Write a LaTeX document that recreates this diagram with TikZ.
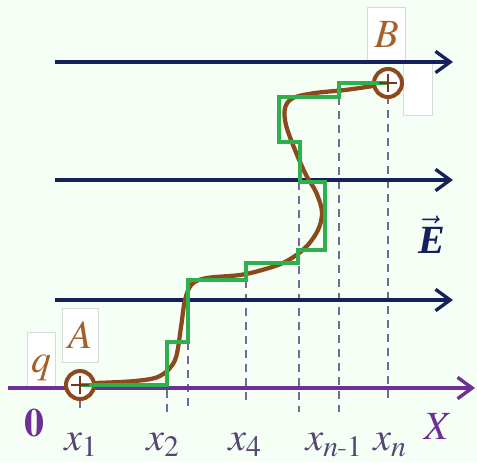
\documentclass[tikz,border=0pt]{standalone}
\usepackage{amsmath}
\usepackage{mathptmx}
\usepackage{fontspec}
\newfontfamily\timesbold{Liberation Serif}
\usetikzlibrary{arrows.meta}

\definecolor{bgmint}{RGB}{245,255,246}
\definecolor{fieldblue}{RGB}{22,32,92}
\definecolor{axispurple}{RGB}{108,48,150}
\definecolor{pathbrown}{RGB}{140,74,28}
\definecolor{stepgreen}{RGB}{46,176,76}
\definecolor{dashpurple}{RGB}{122,102,152}
\definecolor{labelgray}{RGB}{85,70,115}
\definecolor{labelbrown}{RGB}{165,95,40}

\tikzset{
  fieldline/.style={draw=fieldblue, line width=2.5pt, -{Straight Barb[length=11pt, width=16pt]}},
  axisline/.style={draw=axispurple, line width=2.5pt, -{Straight Barb[length=11pt, width=16pt]}},
  guide/.style={draw=dashpurple, line width=1.8pt, dash pattern=on 6pt off 4.5pt},
  route/.style={draw=pathbrown, line width=3.2pt, line cap=round},
  steps/.style={draw=stepgreen, line width=2.8pt},
  charge/.style={circle, draw=pathbrown, fill=white, line width=3pt, minimum size=21pt, inner sep=0pt},
  plus/.style={draw=pathbrown!80!black, line width=1pt},
  labelbox/.style={fill=white, draw=black!15, line width=0.6pt},
  chargelabel/.style={labelbox, inner sep=0pt, anchor=base, text height=30pt, text depth=10.5pt,
    text=labelbrown, font=\fontsize{30}{32}\selectfont},
  axislabel/.style={text=labelgray, inner sep=0pt, anchor=base, font=\fontsize{30}{32}\selectfont},
}

\begin{document}
\begin{tikzpicture}[x=0.75pt, y=-0.75pt]
  \fill[bgmint] (0,0) rectangle (477,462);
  \useasboundingbox (0,0) rectangle (477,462);

  \draw[guide] (80,400) -- (80,411);
  \draw[guide] (167,390) -- (167,412);
  \draw[guide] (188,342) -- (188,412);
  \draw[guide] (246,280) -- (246,406);
  \draw[guide] (299,182) -- (299,412);
  \draw[guide] (339,97) -- (339,412);
  \draw[guide] (388,96) -- (388,404);

  \draw[labelbox] (403,62) rectangle (432,115);
  \node[chargelabel, minimum width=21pt] (qlab) at (41,372) {$q$};
  \node[chargelabel, minimum width=27pt] (Alab) at (80,348) {$A$};
  \node[chargelabel, minimum width=28pt] (Blab) at (386.5,47) {$B$};

  \draw[fieldline] (55,62) -- (453,62);
  \draw[fieldline] (55,180) -- (453,180);
  \draw[fieldline] (55,300) -- (453,300);
  \draw[axisline] (8,388) -- (475,388);

  \node[charge] (A) at (80,385) {};
  \node[charge] (B) at (388,83) {};

  \draw[route] plot[smooth, tension=0.55] coordinates {(95,383) (135,381) (160,376) (175,360)
    (181,327) (185,300) (192,284) (207,278) (240,275) (262,270) (285,262) (305,248) (318,230)
    (322,212) (316,192) (306,175) (295,150) (286,125) (285,108) (293,98) (315,93) (345,90) (373,86)};

  \draw[steps] (A.center) -- (167,385) -- (167,342) -- (188,342) -- (188,280) -- (246,280)
    -- (246,263) -- (298,263) -- (298,250) -- (325,250) -- (325,182) -- (300,182) -- (300,142)
    -- (279,142) -- (279,97) -- (339,97) -- (339,83) -- (B.center);

  \draw[plus] ([xshift=-6.5pt]A.center) -- ([xshift=6.5pt]A.center);
  \draw[plus] ([yshift=-6.5pt]A.center) -- ([yshift=6.5pt]A.center);
  \draw[plus] ([xshift=-6.5pt]B.center) -- ([xshift=6.5pt]B.center);
  \draw[plus] ([yshift=-6.5pt]B.center) -- ([yshift=6.5pt]B.center);

  \node[axislabel, text=axispurple] (zero) at (34,436) {$\mathbf{0}$};
  \node[axislabel] (xa) at (81,450) {$x_1$};
  \node[axislabel] (xb) at (163,450) {$x_2$};
  \node[axislabel] (xd) at (245,450) {$x_4$};
  \node[axislabel] (xm) at (334,450) {$x_{n\text{-}1}$};
  \node[axislabel] (xn) at (390,450) {$x_n$};
  \node[axislabel, text=axispurple] (Xlab) at (438,439) {$X$};
  \node[axislabel, text=fieldblue] (Elab) at (432,253) {$\vec{\hbox{\timesbold\bfseries\itshape E}}$};
\end{tikzpicture}
\end{document}
